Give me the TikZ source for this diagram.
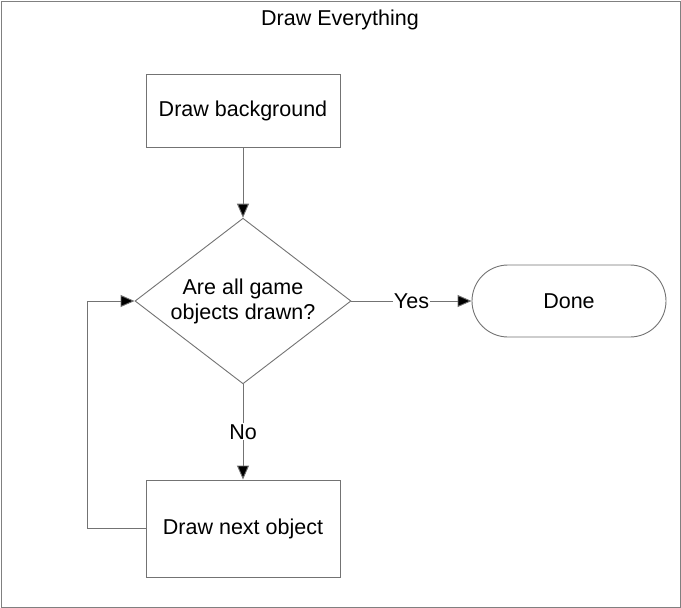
\documentclass[tikz,border=0pt]{standalone}
\usepackage{fontspec}
\setmainfont{Liberation Sans}
\usetikzlibrary{shapes.geometric,shapes.misc,arrows.meta}
\tikzset{flowline/.style={draw=black!55,line width=0.9pt},
	flowarrow/.style={flowline,-{Triangle[length=14pt,width=12pt,fill=black]}}
}

\begin{document}
\begin{tikzpicture}[x=1pt,y=-1pt,font=\fontsize{21.5}{25}\selectfont]
				\tikzstyle{STEP} = [flowline, fill=white, minimum width=194pt, minimum height=73pt, inner sep=0pt]
				\tikzstyle{CHECK} = [flowline, diamond, fill=white, minimum width=216pt, minimum height=162pt, inner sep=-6pt, align=center]
				\tikzstyle{TERM} = [flowline, rounded rectangle, fill=white, minimum width=194pt, minimum height=72pt, inner sep=0pt]
				\tikzstyle{lbl} = [fill=white, inner sep=1pt]
				
				\useasboundingbox (0,0) rectangle (681,608);
				\draw [draw=black!50,line width=1pt] (1,1) rectangle (680,607);
				\node [] (title) at (340,20) {Draw Everything};
				
				\node[STEP] (bg)    at (243,110.5) {Draw background};
				\node[CHECK] (check) at (243,301) {Are all game\\objects drawn?};
				\node[TERM] (done)  at (569,301) {Done};
				\node[STEP, minimum height=97pt] (next) at (243,528.5) {Draw next object};
				\coordinate (loop) at (87,528.5);
				
				\draw[flowarrow] (bg.south) -- (check.north);
				\draw[flowarrow] (check.east) -- (done.west) node [midway,lbl] {Yes};
				\draw[flowarrow] (check.south) -- (next.north) node [midway,lbl] {No};
				\draw[flowarrow] (next.west) -- (loop) |- (check.west);
				
			\end{tikzpicture}
\end{document}
